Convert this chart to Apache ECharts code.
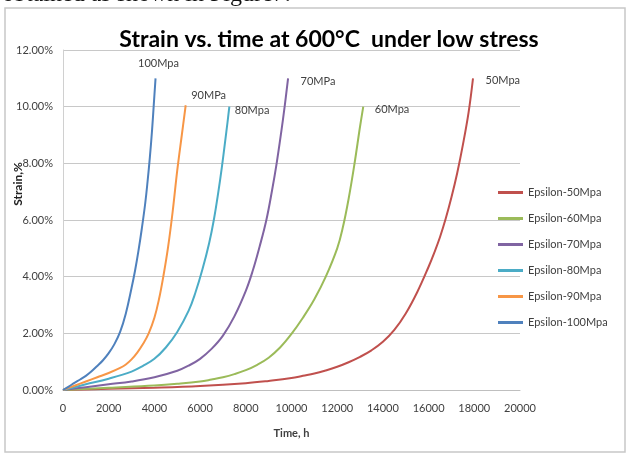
<!DOCTYPE html>
<html>
<head>
<meta charset="utf-8">
<script src="https://cdn.jsdelivr.net/npm/echarts@6/dist/echarts.min.js"></script>
<style>
html,body{margin:0;padding:0;background:#fff;}
#chart{width:629px;height:459px;}
</style>
</head>
<body>
<div id="chart"></div>
<script>
// ---- data ----
var seriesNames = ['Epsilon-50Mpa','Epsilon-60Mpa','Epsilon-70Mpa','Epsilon-80Mpa','Epsilon-90Mpa','Epsilon-100Mpa'];
var curveLabels = ['50Mpa','60Mpa','70MPa','80Mpa','90MPa','100Mpa'];

var t50  = [0, 2000, 4000, 6000, 8000, 9000, 10000, 10500, 11000, 11500, 12000, 12500, 13000, 13500, 14000, 14500, 15000, 15500, 16000, 16250, 16500, 16750, 17000, 17250, 17500, 17750, 17943];
var s50  = [0, 0.04, 0.08, 0.14, 0.24, 0.32, 0.42, 0.5, 0.58, 0.69, 0.82, 0.98, 1.17, 1.4, 1.7, 2.12, 2.7, 3.45, 4.35, 4.85, 5.4, 6.05, 6.8, 7.65, 8.65, 9.8, 11.0];

var t60  = [0, 2000, 4000, 5000, 6000, 6500, 7000, 7500, 8000, 8500, 9000, 9500, 10000, 10500, 11000, 11500, 12000, 12250, 12500, 12750, 13000, 13140];
var s60  = [0, 0.08, 0.16, 0.22, 0.3, 0.37, 0.45, 0.56, 0.7, 0.89, 1.14, 1.5, 1.98, 2.55, 3.2, 4.0, 5.0, 5.75, 6.75, 7.95, 9.3, 10.0];

var t70  = [0, 1000, 2000, 3000, 4000, 5000, 5500, 6000, 6500, 7000, 7500, 8000, 8300, 8600, 8900, 9150, 9350, 9550, 9700, 9850];
var s70  = [0, 0.1, 0.2, 0.3, 0.45, 0.68, 0.86, 1.1, 1.45, 1.92, 2.6, 3.5, 4.2, 5.05, 6.0, 7.05, 8.0, 9.1, 10.0, 11.0];

var t80  = [0, 1000, 2000, 3000, 3500, 4000, 4500, 5000, 5500, 5800, 6100, 6400, 6600, 6800, 6950, 7100, 7200, 7280];
var s80  = [0, 0.2, 0.4, 0.65, 0.85, 1.1, 1.5, 2.05, 2.8, 3.45, 4.25, 5.2, 6.0, 7.0, 7.85, 8.8, 9.45, 10.0];

var t90  = [0, 500, 1000, 1500, 2000, 2500, 2750, 3000, 3250, 3500, 3750, 4000, 4200, 4400, 4600, 4800, 5000, 5200, 5370];
var s90  = [0, 0.15, 0.3, 0.45, 0.6, 0.78, 0.9, 1.08, 1.32, 1.62, 2.0, 2.55, 3.2, 4.05, 5.05, 6.3, 7.75, 9.0, 10.05];

var t100 = [0, 250, 500, 750, 1000, 1250, 1500, 1750, 2000, 2250, 2500, 2750, 3000, 3150, 3300, 3450, 3600, 3700, 3800, 3900, 3975, 4050];
var s100 = [0, 0.12, 0.25, 0.37, 0.5, 0.66, 0.85, 1.05, 1.3, 1.62, 2.05, 2.7, 3.6, 4.2, 4.9, 5.7, 6.6, 7.35, 8.2, 9.2, 10.1, 11.0];

var xTicks = [0, 2000, 4000, 6000, 8000, 10000, 12000, 14000, 16000, 18000, 20000];
var yTicks = [0, 2, 4, 6, 8, 10, 12];

// ---- styling (not data) ----
var colors = ['#C0504D','#9BBB59','#8064A2','#4BACC6','#F79646','#4F81BD'];
var labelPos = [
  {position:'right', offset:[7,2]},
  {position:'right', offset:[6,3]},
  {position:'right', offset:[7,3]},
  {position:'right', offset:[0,4]},
  {position:'right', offset:[0,-10]},
  {position:'top', offset:[3,-4]}
];
var txt = '#404040';
var fam = 'Lato, "Liberation Sans", sans-serif';

var tArr = [t50,t60,t70,t80,t90,t100];
var sArr = [s50,s60,s70,s80,s90,s100];

var series = seriesNames.map(function(name, i){
  var t = tArr[i], s = sArr[i];
  var pts = t.map(function(v, k){ return [v, s[k]]; });
  var last = pts[pts.length-1];
  return {
    name: name,
    type: 'line',
    data: pts,
    smooth: 0.4,
    symbol: 'none',
    showSymbol: false,
    lineStyle: {width: 2, color: colors[i]},
    itemStyle: {color: colors[i]},
    z: 2 + i,
    markPoint: {
      symbol: 'circle',
      symbolSize: 1,
      itemStyle: {color: 'rgba(0,0,0,0)'},
      silent: true,
      data: [{coord: last}],
      label: {
        show: true,
        formatter: curveLabels[i],
        position: labelPos[i].position,
        offset: labelPos[i].offset,
        distance: 5,
        color: txt,
        fontSize: 11,
        fontFamily: fam
      }
    }
  };
});

var chart = echarts.init(document.getElementById('chart'), null, {renderer:'canvas'});
chart.setOption({
  animation: false,
  backgroundColor: '#ffffff',
  color: colors,
  title: {
    text: 'Strain vs. time at 600°C  under low stress',
    left: 324,
    textAlign: 'center',
    top: 23,
    textStyle: {fontSize: 23, fontWeight: 'bold', color: '#000', fontFamily: fam}
  },
  graphic: [
    {type:'rect', shape:{x:5, y:8, width:620, height:444}, style:{fill:'none', stroke:'#c8c8c8', lineWidth:1.5}, z:-10},
    {type:'text', left: 2, top: -17, style:{text:'obtained as shown in Figure7.', font:'24px "Liberation Serif", serif', fill:'#111'}, z:-5},
    {type:'text', x: 18, y: 184, rotation: Math.PI/2, style:{text:'Strain,%', font:'bold 12px Lato, sans-serif', fill:'#222', align:'center', verticalAlign:'middle'}, z: 10}
  ],
  legend: {
    orient: 'vertical',
    left: 493,
    top: 182,
    icon: 'rect',
    itemWidth: 25,
    itemHeight: 3,
    itemGap: 15,
    data: seriesNames,
    textStyle: {fontSize: 11, color: txt, fontFamily: fam}
  },
  grid: {left: 63, right: 109, top: 50, bottom: 69, containLabel: false, outerBoundsMode: 'none'},
  xAxis: {
    type: 'value',
    min: xTicks[0],
    max: xTicks[xTicks.length-1],
    interval: xTicks[1]-xTicks[0],
    name: 'Time, h',
    nameLocation: 'middle',
    nameGap: 38,
    nameTextStyle: {fontSize: 11, fontWeight: 'bold', color: txt, fontFamily: fam},
    axisLine: {show: true, lineStyle: {color: '#bfbfbf', width: 1}},
    axisTick: {show: false},
    axisLabel: {fontSize: 11, color: txt, fontFamily: fam, margin: 13,
      formatter: function(v){ return String(v); }},
    splitLine: {show: false}
  },
  yAxis: {
    type: 'value',
    min: yTicks[0],
    max: yTicks[yTicks.length-1],
    interval: yTicks[1]-yTicks[0],
    axisLine: {show: true, lineStyle: {color: '#d0d0d0', width: 1}},
    axisTick: {show: false},
    axisLabel: {fontSize: 11, color: txt, fontFamily: fam, margin: 10,
      formatter: function(v){ return v.toFixed(2) + '%'; }},
    splitLine: {show: true, lineStyle: {color: '#c8c8c8', width: 1}}
  },
  series: series
});
</script>
</body>
</html>
